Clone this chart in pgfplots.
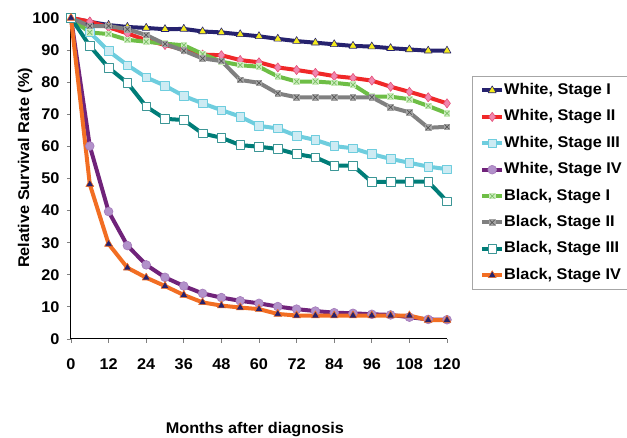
\documentclass[border=0pt]{standalone}
\usepackage{fontspec}
\setmainfont[FakeStretch=1.05]{Liberation Sans}
\usepackage{pgfplots}
\pgfplotsset{compat=1.18}
\usetikzlibrary{plotmarks}
\definecolor{navy}{RGB}{38,34,110}
\definecolor{yel}{RGB}{245,235,30}
\definecolor{wred}{RGB}{240,40,40}
\definecolor{pinkm}{RGB}{240,135,175}
\definecolor{pinke}{RGB}{230,80,120}
\definecolor{lblue}{RGB}{110,205,222}
\definecolor{lbluef}{RGB}{205,235,243}
\definecolor{purp}{RGB}{112,35,122}
\definecolor{purpf}{RGB}{178,145,202}
\definecolor{grn}{RGB}{110,190,70}
\definecolor{grnf}{RGB}{205,236,190}
\definecolor{grnx}{RGB}{120,190,100}
\definecolor{gry}{RGB}{128,128,128}
\definecolor{gryf}{RGB}{165,165,165}
\definecolor{gryx}{RGB}{85,85,85}
\definecolor{teal2}{RGB}{0,125,120}
\definecolor{teale}{RGB}{60,150,150}
\definecolor{orng}{RGB}{242,110,35}
\pgfdeclareplotmark{boxx}{%
  \pgfpathrectangle{\pgfqpoint{-\pgfplotmarksize}{-\pgfplotmarksize}}{\pgfqpoint{2\pgfplotmarksize}{2\pgfplotmarksize}}%
  \pgfusepathqfill
  \pgfpathmoveto{\pgfqpoint{-0.7\pgfplotmarksize}{-0.7\pgfplotmarksize}}%
  \pgfpathlineto{\pgfqpoint{0.7\pgfplotmarksize}{0.7\pgfplotmarksize}}%
  \pgfpathmoveto{\pgfqpoint{-0.7\pgfplotmarksize}{0.7\pgfplotmarksize}}%
  \pgfpathlineto{\pgfqpoint{0.7\pgfplotmarksize}{-0.7\pgfplotmarksize}}%
  \pgfusepathqstroke
}
\begin{document}
\begin{tikzpicture}
\useasboundingbox (0,0) rectangle (627pt,438pt);
\begin{axis}[
  at={(71pt,99pt)}, anchor=south west,
  scale only axis, width=376pt, height=321pt,
  xmin=0, xmax=120, ymin=0, ymax=100,
  xtick={0,12,...,120}, ytick={0,10,...,100},
  axis x line*=bottom, axis y line*=left,
  x axis line style={-}, y axis line style={-},
  axis line style={black, line width=1pt},
  tick align=outside, major tick length=4pt,
  tick style={gray, line width=0.8pt},
  ticklabel style={font=\fontsize{15.5}{17}\selectfont\bfseries},
  xticklabel style={yshift=-12pt},
  yticklabel style={xshift=-4pt},
  /pgf/number format/assume math mode=true,
  xlabel={Months after diagnosis},
  ylabel={Relative Survival Rate (\%)},
  label style={font=\fontsize{15.5}{17}\selectfont\bfseries},
  xlabel style={at={(axis description cs:0.489,-0.283)}, anchor=center},
  ylabel style={at={(axis description cs:-0.122,0.533)}, anchor=center},
  clip=false,
  legend cell align=left,
  legend style={at={(axis description cs:1.066,0.819)}, anchor=north west,
    draw=gray!70, line width=0.8pt,
    font=\fontsize{15.5}{17}\selectfont\bfseries,
    row sep=12.4pt, inner xsep=8pt, inner ysep=7pt,
    nodes={inner sep=0pt, text height=11pt, text depth=3pt},
    /tikz/every even column/.append style={column sep=0pt}},
  legend image code/.code={\draw[mark repeat=2, mark phase=2, #1] plot coordinates {(0pt,0pt) (10pt,0pt) (20pt,0pt)};},
  every axis plot/.append style={line width=4pt, line join=round},
]
% White, Stage I
\addplot[navy, mark=triangle*, mark size=4.6pt, mark options={fill=yel, draw=navy, line width=0.6pt}] coordinates {
(0,100) (6,98.8) (12,97.8) (18,97.2) (24,96.9) (30,96.5) (36,96.6) (42,95.8) (48,95.5) (54,94.9) (60,94.3) (66,93.5) (72,92.8) (78,92.3) (84,91.8) (90,91.3) (96,91.1) (102,90.6) (108,90.2) (114,89.8) (120,89.8)};
\addlegendentry{White, Stage I}
% White, Stage II
\addplot[wred, mark=diamond*, mark size=4.6pt, mark options={fill=pinkm, draw=pinke, line width=0.6pt}] coordinates {
(0,100) (6,98.9) (12,97.1) (18,95.2) (24,93.1) (30,91.6) (36,90.2) (42,88.6) (48,88.4) (54,86.9) (60,86.2) (66,84.6) (72,83.8) (78,82.9) (84,81.9) (90,81.3) (96,80.5) (102,78.6) (108,77.0) (114,75.3) (120,73.4)};
\addlegendentry{White, Stage II}
% White, Stage III
\addplot[lblue, mark=square*, mark size=4.3pt, mark options={fill=lbluef, draw=lblue, line width=0.6pt}] coordinates {
(0,100) (6,95.5) (12,89.7) (18,85.3) (24,81.5) (30,78.9) (36,75.7) (42,73.4) (48,71.3) (54,69.3) (60,66.4) (66,65.6) (72,63.3) (78,62.0) (84,60.1) (90,59.4) (96,57.6) (102,56.1) (108,54.9) (114,53.7) (120,52.9)};
\addlegendentry{White, Stage III}
% White, Stage IV
\addplot[purp, mark=*, mark size=4.4pt, mark options={fill=purpf, draw=purpf!80!purp, line width=0.6pt}] coordinates {
(0,100) (6,60.1) (12,39.7) (18,29.1) (24,23.1) (30,19.2) (36,16.5) (42,14.2) (48,12.9) (54,11.9) (60,11.1) (66,10.1) (72,9.3) (78,8.7) (84,8.2) (90,8.0) (96,7.7) (102,7.5) (108,6.8) (114,6.1) (120,6.0)};
\addlegendentry{White, Stage IV\hspace*{14pt}}
% Black, Stage I
\addplot[grn, mark=boxx, mark size=3.3pt, mark options={fill=grnf, draw=grnx, line width=0.7pt}] coordinates {
(0,100) (6,95.5) (12,95.0) (18,93.2) (24,92.6) (30,92.0) (36,91.5) (42,88.8) (48,86.4) (54,85.3) (60,84.8) (66,81.8) (72,80.2) (78,80.2) (84,79.8) (90,79.2) (96,75.5) (102,75.5) (108,74.7) (114,72.6) (120,70.3)};
\addlegendentry{Black, Stage I}
% Black, Stage II
\addplot[gry, mark=boxx, mark size=3.3pt, mark options={fill=gryf, draw=gryx, line width=0.7pt}] coordinates {
(0,100) (6,97.5) (12,97.5) (18,96.5) (24,94.7) (30,91.9) (36,89.8) (42,87.4) (48,86.6) (54,80.7) (60,79.8) (66,76.5) (72,75.3) (78,75.3) (84,75.3) (90,75.3) (96,75.3) (102,72.2) (108,70.6) (114,65.8) (120,66.1)};
\addlegendentry{Black, Stage II}
% Black, Stage III
\addplot[teal2, mark=square*, mark size=4.3pt, mark options={fill=white, draw=teale, line width=0.8pt}] coordinates {
(0,100) (6,91.3) (12,84.5) (18,79.8) (24,72.4) (30,68.6) (36,68.2) (42,64.0) (48,62.7) (54,60.4) (60,59.9) (66,59.2) (72,57.6) (78,56.6) (84,54.0) (90,54.0) (96,48.9) (102,49.0) (108,49.0) (114,49.0) (120,42.9)};
\addlegendentry{Black, Stage III}
% Black, Stage IV
\addplot[orng, mark=triangle*, mark size=4.6pt, mark options={fill=navy, draw=orng, line width=0.6pt}] coordinates {
(0,100) (6,48.2) (12,29.6) (18,22.2) (24,19.1) (30,16.5) (36,13.7) (42,11.4) (48,10.4) (54,9.8) (60,9.3) (66,7.8) (72,7.3) (78,7.3) (84,7.3) (90,7.3) (96,7.3) (102,7.3) (108,7.3) (114,5.9) (120,5.9)};
\addlegendentry{Black, Stage IV}
\end{axis}
\end{tikzpicture}
\end{document}
